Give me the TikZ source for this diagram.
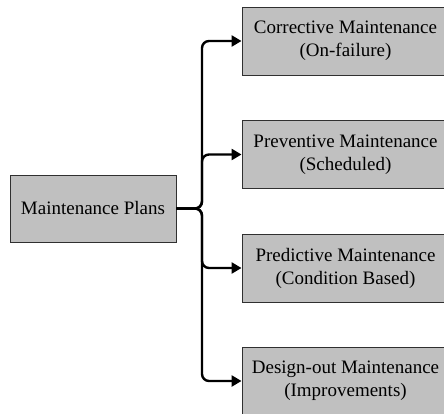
\documentclass[tikz,border=0pt]{standalone}
\usepackage{fontspec}
\setmainfont{Liberation Serif}
\usepackage{xcolor}
\definecolor{BoxGray}{HTML}{C0C0C0}
\definecolor{EdgeGray}{HTML}{303030}
\usepackage{tikz}
\usetikzlibrary{arrows.meta, positioning}

\begin{document}
\begin{tikzpicture}[x=1pt, y=1pt,
    planbox/.style={draw=EdgeGray, line width=0.9pt, fill=BoxGray, align=center,
      inner sep=0pt, font=\fontsize{19}{23}\selectfont},
    mainbox/.style={planbox, minimum width=166pt, minimum height=67pt},
    kindbox/.style={planbox, minimum width=207pt, minimum height=68pt},
    link/.style={line width=2.4pt, rounded corners=7pt,
      -{Triangle[length=10pt, width=11pt]}}]
        \useasboundingbox (0,0) rectangle (444,413);
        \node[mainbox] (plans) at (93,204.5) {Maintenance Plans};
        \node[kindbox] (corrective) at (345.5,372) {Corrective Maintenance\\(On-failure)};
        \node[kindbox] (preventive) at (345.5,258.5) {Preventive Maintenance\\(Scheduled)};
        \node[kindbox] (predictive) at (345.5,145) {Predictive Maintenance\\(Condition Based)};
        \node[kindbox] (designout) at (345.5,32) {Design-out Maintenance\\(Improvements)};
        \coordinate (split) at (202,204.5);
        % elbow links from the plan box to every kind of maintenance
        \foreach \kind in {corrective, preventive, predictive, designout}
          \draw[link] (plans.east) -- (split) |- (\kind.west);
      \end{tikzpicture}
\end{document}
